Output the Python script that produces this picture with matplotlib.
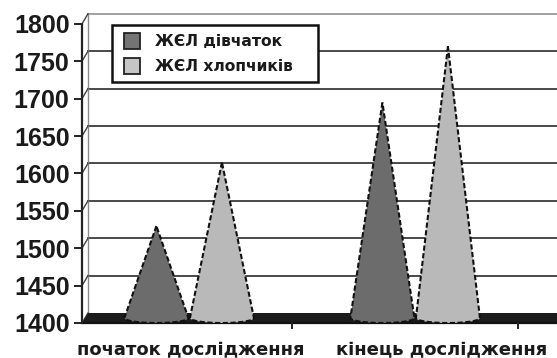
import matplotlib
matplotlib.use("Agg")
import matplotlib.pyplot as plt
from matplotlib.patches import Polygon, Rectangle
import numpy as np

# Data
categories = ["початок дослідження", "кінець дослідження"]
series_names = ["ЖЄЛ дівчаток", "ЖЄЛ хлопчиків"]
girls = [1523, 1688]
boys = [1608, 1763]
y_ticks = [1400, 1450, 1500, 1550, 1600, 1650, 1700, 1750, 1800]

colors = ["#6c6c6c", "#b9b9b9"]
legend_colors = ["#747474", "#c6c6c6"]

W, H = 557, 358
fig = plt.figure(figsize=(W / 100, H / 100), dpi=100)
fig.patch.set_facecolor("white")

# axes area in pixels
left_px, right_px, bottom_px, top_px = 82, 557, 323, 10
ax = fig.add_axes([left_px / W, (H - bottom_px) / H,
                   (right_px - left_px) / W, (bottom_px - top_px) / H])

px_per_val = 37.4 / 50.0
x_origin_px, px_per_cat = 66.0, 226.0
x0 = (left_px - x_origin_px) / px_per_cat
xmax = (right_px - x_origin_px) / px_per_cat
ymin = 1400
ymax = ymin + (bottom_px - top_px) / px_per_val
ax.set_xlim(x0, xmax)
ax.set_ylim(ymin, ymax)

# 3D depth offsets
ddx = 6 / px_per_cat
ddy = 10 / px_per_val

for s in ["top", "right", "bottom"]:
    ax.spines[s].set_visible(False)
ax.spines["left"].set_bounds(1400, 1800)
ax.spines["left"].set_linewidth(1.6)
ax.spines["left"].set_color("#222222")

# back wall gridlines
for v in y_ticks[1:]:
    c = "#9a9a9a" if v == y_ticks[-1] else "#3a3a3a"
    ax.plot([x0 + ddx, xmax], [v + ddy, v + ddy], color=c, lw=1.3, zorder=1)
# side wall
ax.plot([x0 + ddx, x0 + ddx], [1400 + ddy, 1800 + ddy], color="#8a8a8a", lw=1.0, zorder=1)
for v in y_ticks:
    ax.plot([x0, x0 + ddx], [v, v + ddy], color="#444444", lw=1.0, zorder=1)

# floor
floor = Polygon([(x0, 1400), (xmax, 1400), (xmax, 1400 + ddy), (x0 + ddx, 1400 + ddy)],
                closed=True, facecolor="#1c1c1c", edgecolor="none", zorder=2)
ax.add_patch(floor)
ax.plot([x0, xmax], [1400, 1400], color="#111111", lw=1.6, zorder=2, clip_on=False)

# cones
half_w = 32 / px_per_cat
ell_h = 5 / px_per_val
base_y = 1400 + ddy / 2
for i in range(len(categories)):
    for j, vals in enumerate([girls, boys]):
        cx = i + 0.545 + (-0.145 if j == 0 else 0.145)
        apex = (cx, vals[i] + ddy / 2)
        t = np.linspace(np.pi, 2 * np.pi, 40)
        arc = np.column_stack([cx + half_w * np.cos(t), base_y + ell_h * np.sin(t)])
        pts = [apex] + [tuple(p) for p in arc]
        cone = Polygon(pts, closed=True, facecolor=colors[j], edgecolor="#111111",
                       lw=1.5, linestyle=(0, (2.5, 1.2)), zorder=3 + j + 2 * i)
        ax.add_patch(cone)

# y axis ticks
ax.set_yticks(y_ticks)
ax.set_yticklabels([str(v) for v in y_ticks])
ax.tick_params(axis="y", direction="out", length=6, width=1.4, color="#222222", pad=3)
for lbl in ax.get_yticklabels():
    lbl.set_fontfamily("Liberation Sans")
    lbl.set_fontweight("bold")
    lbl.set_fontsize(18)
    lbl.set_color("#1a1a1a")

# x axis: category ticks at boundaries, labels as text
ax.set_xticks([])
for xb in [1, 2]:
    ax.plot([xb, xb], [1400, 1400 - 5 / px_per_val], color="#222222", lw=1.4, clip_on=False, zorder=2)
label_x = [0.55, 1.66]
for lx, cat in zip(label_x, categories):
    ax.text(lx, 1400 - 27 / px_per_val, cat, ha="center", va="center",
            fontsize=13, fontweight="bold", family="DejaVu Sans", color="#1a1a1a")

# legend box, drawn in figure pixel units
def fx(px):
    return px / W

def fy(py):
    return 1 - py / H

frame = Rectangle((fx(112), fy(82)), fx(318) - fx(112), fy(25) - fy(82),
                  transform=fig.transFigure, facecolor="white", edgecolor="#111111",
                  lw=1.8, zorder=10)
fig.add_artist(frame)
for k, name in enumerate(series_names):
    row_top = 33 + 25 * k
    sq = Rectangle((fx(124), fy(row_top + 16)), fx(140) - fx(124), fy(row_top) - fy(row_top + 16),
                   transform=fig.transFigure, facecolor=legend_colors[k],
                   edgecolor="#222222", lw=1.3, zorder=11)
    fig.add_artist(sq)
    fig.text(fx(155), fy(row_top + 8.5), name, ha="left", va="center",
             fontsize=11.2, fontweight="bold", family="DejaVu Sans",
             color="#1a1a1a", zorder=12)

fig.savefig("out.png", dpi=100, facecolor="white")
